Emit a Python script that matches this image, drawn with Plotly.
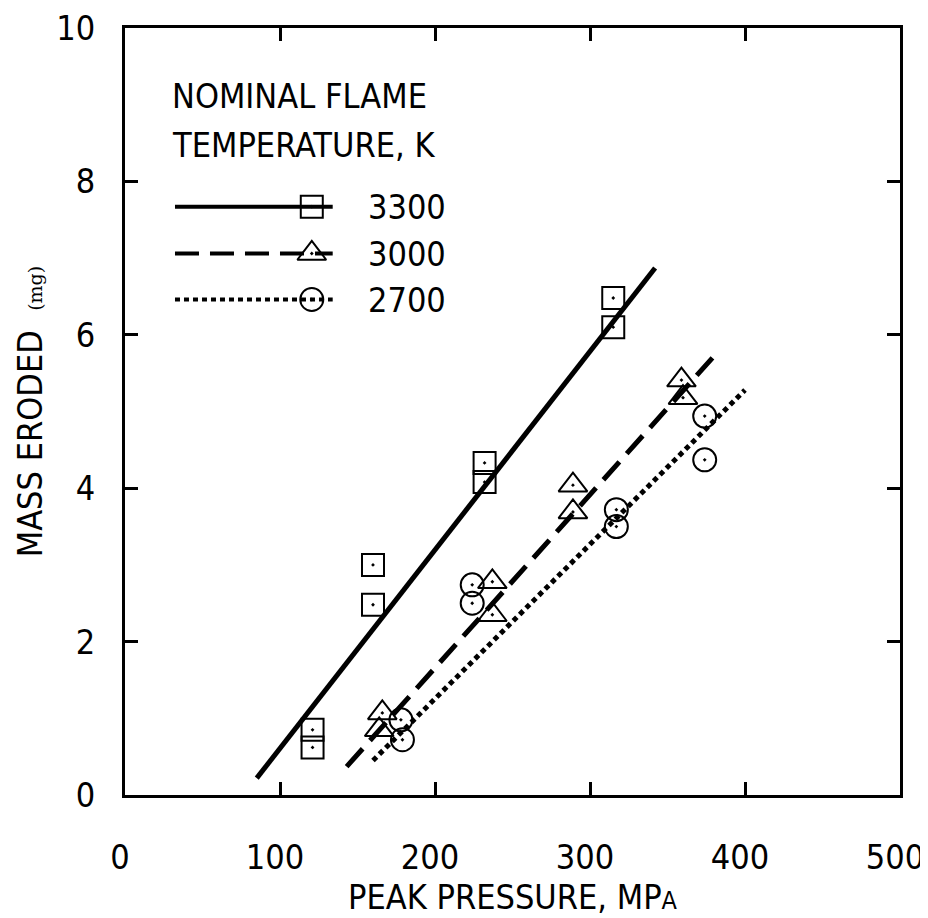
import plotly.graph_objects as go

FONT = "DejaVu Sans Condensed, DejaVu Sans, sans-serif"
FS = 34

# ---- data ----
series_names = ["3300", "3000", "2700"]
sq_x = [121, 121, 160, 160, 232, 232, 315, 315]
sq_y = [0.85, 0.62, 3.00, 2.48, 4.33, 4.08, 6.48, 6.10]
tri_x = [166, 164, 237, 237, 289, 289, 359, 360]
tri_y = [1.07, 0.85, 2.78, 2.35, 4.04, 3.69, 5.41, 5.18]
cir_x = [178, 179, 224, 224, 317, 317, 374, 374]
cir_y = [0.98, 0.72, 2.74, 2.50, 3.72, 3.50, 4.94, 4.37]

fit3300_x = [85, 342]
fit3300_y = [0.22, 6.87]
fit3000_x = [143, 379]
fit3000_y = [0.37, 5.70]
fit2700_x = [160, 400]
fit2700_y = [0.45, 5.28]

x_ticks = [0, 100, 200, 300, 400, 500]
y_ticks = [0, 2, 4, 6, 8, 10]
legend_title = ["NOMINAL FLAME", "TEMPERATURE, K"]

# ---- styles ----
dashes = ["solid", "24px,11px", "5px,4px"]
symbols = ["square-open-dot", "triangle-up-open-dot", "circle-open-dot"]
sizes = [22, 25, 23]
fits = [(fit3300_x, fit3300_y), (fit3000_x, fit3000_y), (fit2700_x, fit2700_y)]
pts = [(sq_x, sq_y), (tri_x, tri_y), (cir_x, cir_y)]

fig = go.Figure()
for (fx, fy), d in zip(fits, dashes):
    fig.add_trace(go.Scatter(x=fx, y=fy, mode="lines",
                             line=dict(color="black", width=5, dash=d),
                             showlegend=False, hoverinfo="skip"))
for (px, py), s, sz in zip(pts, symbols, sizes):
    fig.add_trace(go.Scatter(x=px, y=py, mode="markers",
                             marker=dict(symbol=s, size=sz, color="black",
                                         line=dict(width=2, color="black")),
                             showlegend=False))

# ---- hand-drawn style legend (overlay axes in plot fractions) ----
leg_x0, leg_x1, leg_mx = 0.0645, 0.268, 0.241
leg_rows = [0.767, 0.706, 0.646]
for name, yr, d, s, sz in zip(series_names, leg_rows, dashes, symbols, sizes):
    fig.add_trace(go.Scatter(x=[leg_x0, leg_x1], y=[yr, yr], mode="lines",
                             line=dict(color="black", width=4, dash=d),
                             xaxis="x2", yaxis="y2", showlegend=False,
                             hoverinfo="skip"))
    fig.add_trace(go.Scatter(x=[leg_mx], y=[yr], mode="markers",
                             marker=dict(symbol=s, size=sz, color="black",
                                         line=dict(width=2, color="black")),
                             xaxis="x2", yaxis="y2", showlegend=False,
                             hoverinfo="skip"))
    fig.add_annotation(x=0.311, y=yr, xref="x2", yref="y2", text=name,
                       showarrow=False, xanchor="left", yanchor="middle",
                       font=dict(family=FONT, size=FS, color="black"))

for txt, yr in zip(legend_title, [0.912, 0.848]):
    fig.add_annotation(x=0.058, y=yr, xref="x2", yref="y2", text=txt,
                       showarrow=False, xanchor="left", yanchor="middle",
                       font=dict(family=FONT, size=FS, color="black"))

axis_common = dict(showgrid=False, zeroline=False, showline=True,
                   linecolor="black", linewidth=3, mirror="ticks",
                   ticks="inside", ticklen=13, tickwidth=3, tickcolor="black",
                   automargin=False, ticklabeloverflow="allow",
                   tickfont=dict(family=FONT, size=FS, color="black"))

# page body has an 8px margin: figure is sized/offset to compensate
fig.update_layout(
    width=920, height=910,
    margin=dict(l=117, r=28, t=20, b=123),
    paper_bgcolor="white", plot_bgcolor="white",
    xaxis=dict(range=[0, 500], tickvals=x_ticks, ticktext=[str(v) for v in x_ticks],
               ticklabelstandoff=30, ticklabelshift=-5,
               title=dict(text="PEAK PRESSURE, MP<span style='font-size:25px'>A</span>",
                          font=dict(family=FONT, size=FS, color="black"), standoff=4),
               **axis_common),
    yaxis=dict(range=[0, 10], tickvals=y_ticks, ticktext=[str(v) for v in y_ticks],
               ticklabelstandoff=20,
               title=dict(text="MASS ERODED  <span style='font-size:19px;font-family:DejaVu Serif'>(mg)</span>",
                          font=dict(family=FONT, size=FS, color="black"), standoff=4),
               **axis_common),
    xaxis2=dict(overlaying="x", range=[0, 1], visible=False),
    yaxis2=dict(overlaying="y", range=[0, 1], visible=False),
    font=dict(family=FONT, color="black"),
)

fig.write_html("out.html")
